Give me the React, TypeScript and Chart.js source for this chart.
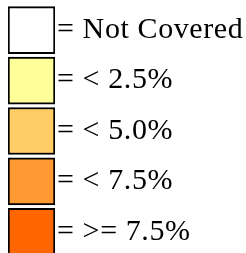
import React, { useEffect, useRef } from "react";
import { Chart, registerables } from "chart.js";

Chart.register(...registerables);

const categories = ["= Not Covered", "= < 2.5%", "= < 5.0%", "= < 7.5%", "= >= 7.5%"];
const boxValues = [1, 1, 1, 1, 1];
const boxColors = ["#FFFFFF", "#FFFF99", "#FFCC66", "#FF9933", "#FF6600"];

const spacingPlugin = {
  id: "textSpacing",
  beforeDraw(chart: any) {
    chart.ctx.letterSpacing = "0.6px";
  },
  afterDraw(chart: any) {
    chart.ctx.letterSpacing = "0px";
  },
};

export default function App() {
  const ref = useRef<HTMLCanvasElement | null>(null);
  useEffect(() => {
    if (!ref.current) return;
    const chart = new Chart(ref.current, {
      type: "bar",
      data: {
        labels: categories,
        datasets: [
          {
            data: boxValues,
            backgroundColor: boxColors,
            borderColor: "#000000",
            borderWidth: 2,
            borderSkipped: false,
            barThickness: 47,
          },
        ],
      },
      plugins: [spacingPlugin],
      options: {
        indexAxis: "y",
        responsive: false,
        animation: false,
        events: [],
        layout: { padding: { left: 8, top: 5, right: 0, bottom: 0 } },
        plugins: { legend: { display: false }, tooltip: { enabled: false } },
        scales: {
          x: { display: false, min: 0, max: 1 },
          y: {
            position: "right",
            offset: true,
            grid: { display: false, drawTicks: false },
            border: { display: false },
            afterFit: (scale: any) => {
              scale.width = 191;
              scale.paddingTop = 0;
              scale.paddingBottom = 0;
            },
            ticks: {
              padding: 2,
              crossAlign: "near",
              color: "#000000",
              font: { family: "'Liberation Serif', 'Times New Roman', serif", size: 30 },
            },
          },
        },
      },
    });
    return () => chart.destroy();
  }, []);
  return (
    <div style={{ position: "fixed", left: 0, top: 0, width: 246, height: 253, overflow: "hidden", background: "#fff" }}>
      <canvas ref={ref} width={246} height={257} style={{ display: "block" }} />
    </div>
  );
}
